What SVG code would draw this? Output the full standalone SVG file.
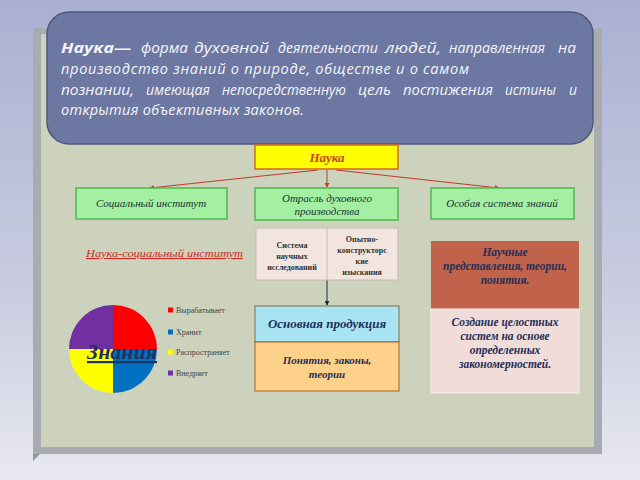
<svg xmlns="http://www.w3.org/2000/svg" width="640" height="480" viewBox="0 0 640 480">
<defs>
<linearGradient id="bg" x1="0" y1="0" x2="0" y2="1">
<stop offset="0" stop-color="#aab0d2"/>
<stop offset="0.6" stop-color="#c9cce0"/>
<stop offset="1" stop-color="#e8e9f0"/>
</linearGradient>
<marker id="ar" viewBox="0 0 6 6" refX="5" refY="3" markerWidth="5" markerHeight="5" orient="auto">
<path d="M0,0 L6,3 L0,6 z" fill="#c0392b"/>
</marker>
<marker id="ab" viewBox="0 0 6 6" refX="5" refY="3" markerWidth="5" markerHeight="5" orient="auto">
<path d="M0,0 L6,3 L0,6 z" fill="#1a2a4a"/>
</marker>
</defs>
<style>
.bt{font-family:"Open Sans","Noto Sans",sans-serif;font-style:italic;font-size:14.5px;fill:#f4f4fa}
.sf{font-family:"Liberation Serif",serif;font-style:italic;text-anchor:middle}
.grn{fill:#a3f0a3;stroke:#4fb84f;stroke-width:1.5}
.gt{font-size:11px;fill:#1a3030}
.tb{font-family:"Liberation Serif",serif;font-weight:bold;font-size:8px;fill:#333;text-anchor:middle}
.nv{font-weight:bold;fill:#1f2f5a}
.lg{font-family:"Liberation Serif",serif;font-size:8px;fill:#444}
.con{stroke:#c0392b;stroke-width:1;fill:none}
</style>
<rect width="640" height="480" fill="url(#bg)"/>
<!-- frame -->
<rect x="33" y="28" width="569" height="426" fill="#a8abb0"/>
<rect x="41" y="34" width="553" height="413" fill="#ccd2bb"/>
<path d="M33,454 L40,454 L33,461 z" fill="#8d99ab"/>
<!-- definition bubble -->
<g id="definition">
<rect x="47" y="12" width="546" height="132" rx="22" fill="#6c78a2" stroke="#4d587c" stroke-width="1.5"/>
<text class="bt" y="53"><tspan x="61" font-weight="bold" textLength="70" lengthAdjust="spacingAndGlyphs">Наука—</tspan><tspan x="141" textLength="47" lengthAdjust="spacingAndGlyphs">форма</tspan><tspan x="194" textLength="75" lengthAdjust="spacingAndGlyphs">духовной</tspan><tspan x="278" textLength="100" lengthAdjust="spacingAndGlyphs">деятельности</tspan><tspan x="385" textLength="56" lengthAdjust="spacingAndGlyphs">людей,</tspan><tspan x="449" textLength="96" lengthAdjust="spacingAndGlyphs">направленная</tspan><tspan x="558" textLength="18" lengthAdjust="spacingAndGlyphs">на</tspan></text>
<text class="bt" x="61" y="74" textLength="408" lengthAdjust="spacing">производство знаний о природе, обществе и о самом</text>
<text class="bt" y="95"><tspan x="61" textLength="73" lengthAdjust="spacingAndGlyphs">познании,</tspan><tspan x="146" textLength="64" lengthAdjust="spacingAndGlyphs">имеющая</tspan><tspan x="222" textLength="124" lengthAdjust="spacingAndGlyphs">непосредственную</tspan><tspan x="358" textLength="33" lengthAdjust="spacingAndGlyphs">цель</tspan><tspan x="403" textLength="90" lengthAdjust="spacingAndGlyphs">постижения</tspan><tspan x="505" textLength="51" lengthAdjust="spacingAndGlyphs">истины</tspan><tspan x="569" textLength="8" lengthAdjust="spacingAndGlyphs">и</tspan></text>
<text class="bt" x="61" y="115" textLength="243" lengthAdjust="spacing">открытия объективных законов.</text>
</g>
<!-- connectors -->
<g id="connectors">
<line class="con" x1="318" y1="170" x2="150" y2="188" marker-end="url(#ar)"/>
<line class="con" x1="327" y1="170" x2="327" y2="187" marker-end="url(#ar)"/>
<line class="con" x1="336" y1="170" x2="499" y2="188" marker-end="url(#ar)"/>
<line x1="327" y1="280" x2="327" y2="305" stroke="#1a2a4a" stroke-width="1" marker-end="url(#ab)"/>
</g>
<g id="nauka">
<rect x="255" y="145" width="143" height="24" fill="#ffff00" stroke="#d2691e" stroke-width="1.5"/>
<text class="sf" x="327" y="162" font-size="13" font-weight="bold" fill="#c8401e">Наука</text>
</g>
<g id="social">
<rect class="grn" x="76" y="188" width="151" height="31"/>
<text class="sf gt" x="151" y="207">Социальный институт</text>
</g>
<g id="branch">
<rect class="grn" x="255" y="188" width="143" height="32"/>
<text class="sf gt" x="327" y="202">Отрасль духовного</text>
<text class="sf gt" x="327" y="215">производства</text>
</g>
<g id="special">
<rect class="grn" x="431" y="188" width="143" height="31"/>
<text class="sf gt" x="502" y="207">Особая система знаний</text>
</g>
<g id="label-social">
<text x="86" y="257" font-family="Liberation Serif, serif" font-style="italic" font-size="11" fill="#cc2a1e" text-decoration="underline" textLength="157" lengthAdjust="spacingAndGlyphs">Наука-социальный институт</text>
</g>
<g id="table">
<rect x="256" y="228" width="142" height="52" fill="#f2e5e0" stroke="#c9b8b0" stroke-width="1"/>
<line x1="327" y1="228" x2="327" y2="280" stroke="#c9b8b0"/>
<text class="tb" x="292" y="248">Система</text>
<text class="tb" x="292" y="259">научных</text>
<text class="tb" x="292" y="270">исследований</text>
<text class="tb" x="362" y="242">Опытно-</text>
<text class="tb" x="362" y="253">конструкторс</text>
<text class="tb" x="362" y="264">кие</text>
<text class="tb" x="362" y="275">изыскания</text>
</g>
<g id="product">
<rect x="255" y="306" width="144" height="36" fill="#a8e4f4" stroke="#8a6a3a" stroke-width="1"/>
<text class="sf nv" x="327" y="328" font-size="13">Основная продукция</text>
</g>
<g id="concepts">
<rect x="255" y="342" width="144" height="49" fill="#fdd18a" stroke="#a0602a" stroke-width="1"/>
<text class="sf nv" x="327" y="364" font-size="11">Понятия, законы,</text>
<text class="sf nv" x="327" y="378" font-size="11">теории</text>
</g>
<g id="ideas">
<rect x="431" y="241" width="148" height="68" fill="#c0634a"/>
<text class="sf nv" x="505" y="256" font-size="11.5">Научные</text>
<text class="sf nv" x="505" y="270" font-size="11.5">представления, теории,</text>
<text class="sf nv" x="505" y="284" font-size="11.5">понятия.</text>
</g>
<g id="systems">
<rect x="431" y="309" width="148" height="84" fill="#f0dcd8" stroke="#f8eeec" stroke-width="1"/>
<text class="sf nv" x="505" y="326" font-size="11.5">Создание целостных</text>
<text class="sf nv" x="505" y="340" font-size="11.5">систем на основе</text>
<text class="sf nv" x="505" y="354" font-size="11.5">определенных</text>
<text class="sf nv" x="505" y="368" font-size="11.5">закономерностей.</text>
</g>
<g id="pie">
<path d="M113,349 L113,305 A44,44 0 0 1 157,349 z" fill="#ff0000"/>
<path d="M113,349 L157,349 A44,44 0 0 1 113,393 z" fill="#0070c0"/>
<path d="M113,349 L113,393 A44,44 0 0 1 69,349 z" fill="#ffff00"/>
<path d="M113,349 L69,349 A44,44 0 0 1 113,305 z" fill="#7030a0"/>
<text x="87" y="359" font-family="Liberation Serif, serif" font-weight="bold" font-style="italic" font-size="22" fill="#1f3060" text-decoration="underline" textLength="70" lengthAdjust="spacingAndGlyphs">Знания</text>
</g>
<g id="legend">
<rect x="168" y="307.5" width="5" height="5" fill="#ff0000"/>
<text class="lg" x="176" y="313">Вырабатывает</text>
<rect x="168" y="329.5" width="5" height="5" fill="#0070c0"/>
<text class="lg" x="176" y="335">Хранит</text>
<rect x="168" y="349.5" width="5" height="5" fill="#ffff00"/>
<text class="lg" x="176" y="355">Распространяет</text>
<rect x="168" y="370.5" width="5" height="5" fill="#7030a0"/>
<text class="lg" x="176" y="376">Внедряет</text>
</g>
</svg>
